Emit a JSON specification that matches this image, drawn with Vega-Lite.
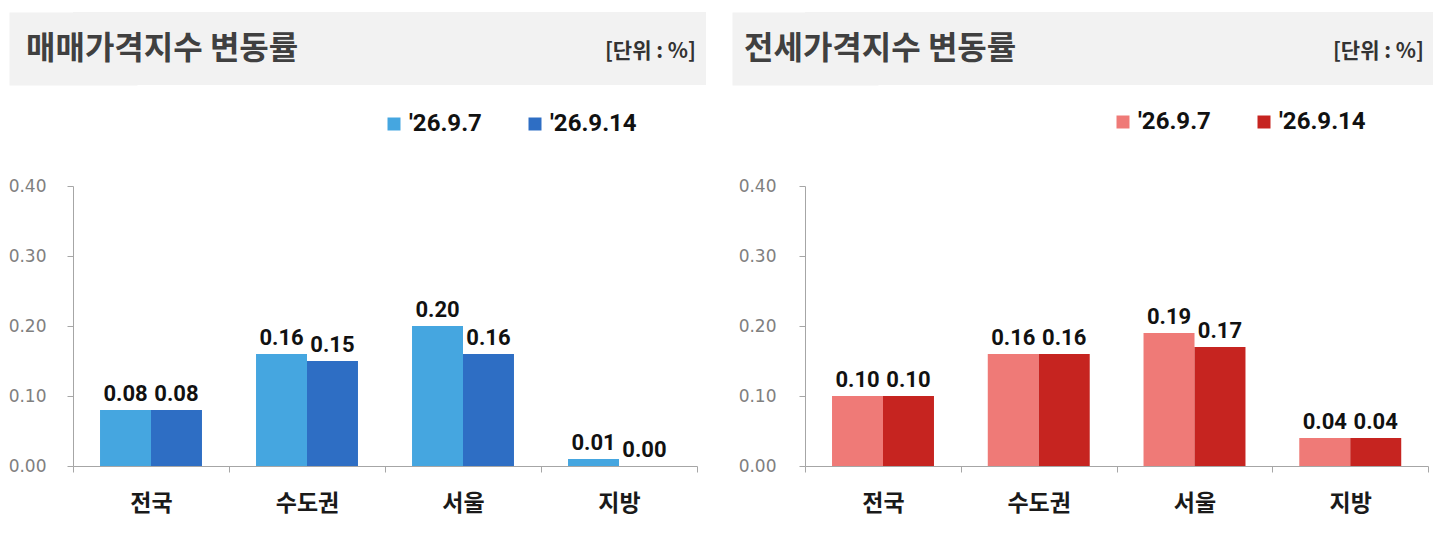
{
  "$schema": "https://vega.github.io/schema/vega-lite/v6.json",
  "description": "매매가격지수 / 전세가격지수 변동률",
  "autosize": {"type": "pad"},
  "padding": {"left": 8, "top": 12, "right": 0, "bottom": 24},
  "background": "white",
  "columns": 2,
  "spacing": {"row": 25, "column": 26},
  "resolve": {"scale": {"color": "independent"}, "legend": {"color": "independent"}},
  "config": {
    "view": {"stroke": null},
    "axis": {
      "grid": false,
      "domainColor": "#A6A6A6",
      "tickColor": "#A6A6A6",
      "tickSize": 6,
      "title": null
    },
    "legend": {
      "orient": "none",
      "direction": "horizontal",
      "title": null,
      "padding": 0,
      "symbolType": "square",
      "symbolSize": 169,
      "symbolStrokeWidth": 0,
      "labelFont": "Roboto",
      "labelFontSize": 24,
      "labelFontWeight": "bold",
      "labelColor": "#111111",
      "labelOffset": 3,
      "columnPadding": 41
    }
  },
  "concat": [
    {
      "width": 633,
      "height": 73,
      "view": {"fill": "#F2F2F2", "stroke": null},
      "data": {"values": [
        {"text": "매매가격지수 변동률", "pos": 0, "row": 0.5, "kind": "title"},
        {"text": "[단위 : %]", "pos": 1, "row": 0.5, "kind": "unit"}
      ]},
      "encoding": {
        "x": {"field": "pos", "type": "quantitative", "scale": {"domain": [0, 1]}, "axis": null},
        "y": {"field": "row", "type": "quantitative", "scale": {"domain": [0, 1]},
          "axis": {"domainWidth": 128, "domainColor": "#F2F2F2", "domainCap": "butt", "ticks": false, "labels": false, "zindex": 0}},
        "text": {"field": "text"}
      },
      "layer": [
        {
          "transform": [{"filter": "datum.kind == 'title'"}],
          "mark": {"type": "text", "align": "left", "baseline": "middle", "dx": -47, "font": "Noto Sans CJK KR", "fontSize": 32, "fontWeight": "bold", "color": "#404040", "zindex": 1}
        },
        {
          "transform": [{"filter": "datum.kind == 'unit'"}],
          "mark": {"type": "text", "align": "right", "baseline": "middle", "dx": -10, "dy": 3, "font": "Noto Sans CJK KR", "fontSize": 21, "fontWeight": "bold", "color": "#333333", "zindex": 1}
        }
      ]
    },
    {
      "width": 628,
      "height": 73,
      "view": {"fill": "#F2F2F2", "stroke": null},
      "data": {"values": [
        {"text": "전세가격지수 변동률", "pos": 0, "row": 0.5, "kind": "title"},
        {"text": "[단위 : %]", "pos": 1, "row": 0.5, "kind": "unit"}
      ]},
      "encoding": {
        "x": {"field": "pos", "type": "quantitative", "scale": {"domain": [0, 1]}, "axis": null},
        "y": {"field": "row", "type": "quantitative", "scale": {"domain": [0, 1]},
          "axis": {"domainWidth": 146, "domainColor": "#F2F2F2", "domainCap": "butt", "ticks": false, "labels": false, "zindex": 0}},
        "text": {"field": "text"}
      },
      "layer": [
        {
          "transform": [{"filter": "datum.kind == 'title'"}],
          "mark": {"type": "text", "align": "left", "baseline": "middle", "dx": -61, "font": "Noto Sans CJK KR", "fontSize": 32, "fontWeight": "bold", "color": "#404040", "zindex": 1}
        },
        {
          "transform": [{"filter": "datum.kind == 'unit'"}],
          "mark": {"type": "text", "align": "right", "baseline": "middle", "dx": -9, "dy": 3, "font": "Noto Sans CJK KR", "fontSize": 21, "fontWeight": "bold", "color": "#333333", "zindex": 1}
        }
      ]
    },
    {
      "width": 624,
      "height": 280,
      "data": {"values": [
        {"region": "전국", "week": "'26.9.7", "value": 0.08},
        {"region": "전국", "week": "'26.9.14", "value": 0.08},
        {"region": "수도권", "week": "'26.9.7", "value": 0.16},
        {"region": "수도권", "week": "'26.9.14", "value": 0.15},
        {"region": "서울", "week": "'26.9.7", "value": 0.20},
        {"region": "서울", "week": "'26.9.14", "value": 0.16},
        {"region": "지방", "week": "'26.9.7", "value": 0.01},
        {"region": "지방", "week": "'26.9.14", "value": 0.00}
      ]},
      "encoding": {
        "x": {
          "field": "region", "type": "nominal", "sort": ["전국", "수도권", "서울", "지방"],
          "scale": {"paddingInner": 0, "paddingOuter": 0},
          "axis": {"tickBand": "extent", "labelAngle": 0, "labelPadding": 20, "labelFont": "Noto Sans CJK KR", "labelFontSize": 23, "labelFontWeight": "bold", "labelColor": "#1A1A1A"}
        },
        "xOffset": {
          "field": "week", "type": "nominal", "sort": ["'26.9.7", "'26.9.14"],
          "scale": {"paddingInner": 0, "paddingOuter": 0.53}
        },
        "y": {
          "field": "value", "type": "quantitative",
          "scale": {"domain": [0, 0.4], "nice": false},
          "axis": {"values": [0, 0.1, 0.2, 0.3, 0.4], "format": ".2f", "labelFont": "DejaVu Sans", "labelFontSize": 17, "labelColor": "#808080", "labelPadding": 21, "minExtent": 64}
        }
      },
      "layer": [
        {
          "mark": {"type": "bar"},
          "encoding": {
            "color": {
              "field": "week", "type": "nominal",
              "scale": {"domain": ["'26.9.7", "'26.9.14"], "range": ["#45A6E0", "#2E6EC4"]},
              "legend": {"legendX": 309, "legendY": -74}
            }
          }
        },
        {
          "mark": {"type": "text", "baseline": "alphabetic", "dy": -9, "font": "Roboto", "fontSize": 22, "fontWeight": "bold", "color": "#111111"},
          "encoding": {"text": {"field": "value", "type": "quantitative", "format": ".2f"}}
        }
      ]
    },
    {
      "width": 623,
      "height": 280,
      "data": {"values": [
        {"region": "전국", "week": "'26.9.7", "value": 0.10},
        {"region": "전국", "week": "'26.9.14", "value": 0.10},
        {"region": "수도권", "week": "'26.9.7", "value": 0.16},
        {"region": "수도권", "week": "'26.9.14", "value": 0.16},
        {"region": "서울", "week": "'26.9.7", "value": 0.19},
        {"region": "서울", "week": "'26.9.14", "value": 0.17},
        {"region": "지방", "week": "'26.9.7", "value": 0.04},
        {"region": "지방", "week": "'26.9.14", "value": 0.04}
      ]},
      "encoding": {
        "x": {
          "field": "region", "type": "nominal", "sort": ["전국", "수도권", "서울", "지방"],
          "scale": {"paddingInner": 0, "paddingOuter": 0},
          "axis": {"tickBand": "extent", "labelAngle": 0, "labelPadding": 20, "labelFont": "Noto Sans CJK KR", "labelFontSize": 23, "labelFontWeight": "bold", "labelColor": "#1A1A1A"}
        },
        "xOffset": {
          "field": "week", "type": "nominal", "sort": ["'26.9.7", "'26.9.14"],
          "scale": {"paddingInner": 0, "paddingOuter": 0.53}
        },
        "y": {
          "field": "value", "type": "quantitative",
          "scale": {"domain": [0, 0.4], "nice": false},
          "axis": {"values": [0, 0.1, 0.2, 0.3, 0.4], "format": ".2f", "labelFont": "DejaVu Sans", "labelFontSize": 17, "labelColor": "#808080", "labelPadding": 23, "minExtent": 73}
        }
      },
      "layer": [
        {
          "mark": {"type": "bar"},
          "encoding": {
            "color": {
              "field": "week", "type": "nominal",
              "scale": {"domain": ["'26.9.7", "'26.9.14"], "range": ["#EF7A77", "#C62420"]},
              "legend": {"legendX": 306, "legendY": -76}
            }
          }
        },
        {
          "mark": {"type": "text", "baseline": "alphabetic", "dy": -9, "font": "Roboto", "fontSize": 22, "fontWeight": "bold", "color": "#111111"},
          "encoding": {"text": {"field": "value", "type": "quantitative", "format": ".2f"}}
        }
      ]
    }
  ]
}
